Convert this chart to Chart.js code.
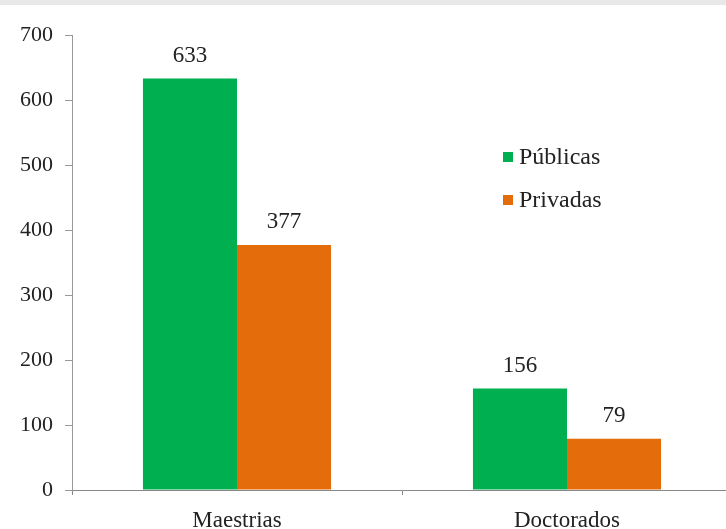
<!DOCTYPE html>
<html>
<head>
<meta charset="utf-8">
<script src="https://cdn.jsdelivr.net/npm/chart.js@4/dist/chart.umd.min.js"></script>
<style>
  html, body { margin: 0; padding: 0; background: #fff; overflow: hidden; }
  #band { position: absolute; left: 0; top: 0; width: 726px; height: 5px; background: #e8e8e8; }
  #wrap { position: absolute; left: 0; top: 0; width: 736px; height: 529px; }
</style>
</head>
<body>
<div id="wrap"><canvas id="chart" width="736" height="529"></canvas></div>
<div id="band"></div>
<script>
const categories = ['Maestrias', 'Doctorados'];
const publicas = [633, 156];
const privadas = [377, 79];
const yTicks = [0, 100, 200, 300, 400, 500, 600, 700];

const FONT = '"Liberation Serif", "Times New Roman", serif';

// value labels above each bar
const barLabels = {
  id: 'barLabels',
  afterDatasetsDraw(chart) {
    const ctx = chart.ctx;
    ctx.save();
    ctx.font = '23px ' + FONT;
    ctx.fillStyle = '#222';
    ctx.textAlign = 'center';
    ctx.textBaseline = 'alphabetic';
    chart.data.datasets.forEach((ds, i) => {
      chart.getDatasetMeta(i).data.forEach((bar, j) => {
        ctx.fillText(ds.data[j], bar.x, bar.y - 17);
      });
    });
    ctx.restore();
  }
};

// legend drawn inside the plot, right side
const innerLegend = {
  id: 'innerLegend',
  afterDraw(chart) {
    const ctx = chart.ctx;
    const x = 503, y0 = 157, gap = 43;
    ctx.save();
    ctx.font = '24px ' + FONT;
    ctx.textBaseline = 'middle';
    chart.data.datasets.forEach((ds, i) => {
      const y = y0 + i * gap;
      ctx.fillStyle = ds.backgroundColor;
      ctx.fillRect(x, y - 5, 10, 10);
      ctx.fillStyle = '#222';
      ctx.fillText(ds.label, x + 16, y + 1);
    });
    ctx.restore();
  }
};

new Chart(document.getElementById('chart'), {
  type: 'bar',
  data: {
    labels: categories,
    datasets: [
      { label: 'Públicas', data: publicas, backgroundColor: '#00b050' },
      { label: 'Privadas', data: privadas, backgroundColor: '#e46c0a' }
    ]
  },
  options: {
    responsive: false,
    animation: false,
    layout: { padding: { top: 35, right: 4, left: 0, bottom: 0 } },
    categoryPercentage: 0.57,
    barPercentage: 1.0,
    plugins: { legend: { display: false }, tooltip: { enabled: false } },
    scales: {
      x: {
        grid: { drawOnChartArea: false, tickLength: 5, color: '#888', offset: true },
        border: { color: '#888' },
        ticks: { font: { family: FONT, size: 23 }, color: '#222', padding: 12 },
        afterFit(scale) { scale.height = 39; }
      },
      y: {
        min: 0, max: 700,
        afterBuildTicks(scale) { scale.ticks = yTicks.map(v => ({ value: v })); },
        grid: { drawOnChartArea: false, tickLength: 7, color: '#999' },
        border: { color: '#999' },
        ticks: { font: { family: FONT, size: 22 }, color: '#222', padding: 12 },
        afterFit(scale) { scale.width = 72; }
      }
    }
  },
  plugins: [barLabels, innerLegend]
});
</script>
</body>
</html>
